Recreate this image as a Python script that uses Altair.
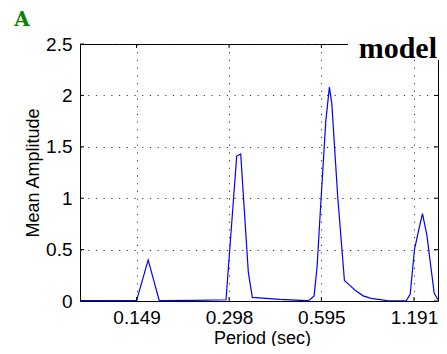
import altair as alt
import pandas as pd

# ---- data ----
period = [0.0975, 0.12, 0.149, 0.1625, 0.1765, 0.23, 0.2912, 0.3155, 0.3251, 0.3442,
          0.3547, 0.4366, 0.5334, 0.545, 0.5634, 0.5762, 0.5938, 0.6151, 0.6319, 0.6434,
          0.6731, 0.7073, 0.738, 0.7663, 0.8137, 0.864, 0.9742, 1.1236, 1.1577, 1.1955,
          1.2319, 1.2693, 1.312, 1.386, 1.4207, 1.493]
amplitude = [0.004, 0.004, 0.004, 0.40, 0.005, 0.006, 0.012, 1.41, 1.43, 0.28,
             0.035, 0.015, 0.003, 0.01, 0.05, 0.33, 1.0, 1.75, 2.08, 1.92,
             1.0, 0.20, 0.15, 0.105, 0.05, 0.025, 0.004, 0.002, 0.065, 0.5,
             0.68, 0.85, 0.64, 0.075, 0.02, 0.02]
x_ticks = [0.149, 0.298, 0.595, 1.191]
y_ticks = [0, 0.5, 1, 1.5, 2, 2.5]
x_domain = [0.0975, 1.426]
y_domain = [0, 2.5]
panel_label = "A"
panel_title = "model"

W, H = 358, 257
FONT = "Liberation Sans"

df = pd.DataFrame({"period": period, "amp": amplitude})
xt = pd.DataFrame({"period": x_ticks})
yt = pd.DataFrame({"amp": y_ticks})
one = pd.DataFrame({"k": [0]})

xs = alt.Scale(type="log", base=2, domain=x_domain, nice=False)
ys = alt.Scale(domain=y_domain, nice=False, zero=False)

x_axis = alt.Axis(
    values=x_ticks, format=".3f", title="Period (sec)",
    labelBaseline="alphabetic", labelPadding=22,
    titleX=182, titleY=42, titleBaseline="alphabetic", titleAlign="center")
y_axis = alt.Axis(
    values=y_ticks, labelExpr="'' + datum.value", title="Mean Amplitude",
    labelPadding=8, labelBaseline="middle",
    titleX=-42, titleY=H / 2, titleAngle=270, titleBaseline="alphabetic",
    titleAlign="center")

line = alt.Chart(df).mark_line(color="#0000ff", strokeWidth=1.2, clip=True).encode(
    x=alt.X("period:Q", scale=xs, axis=x_axis),
    y=alt.Y("amp:Q", scale=ys, axis=y_axis),
)

tick_y_left = alt.Chart(yt).mark_rule(color="black", strokeWidth=1).encode(
    y=alt.Y("amp:Q", scale=ys, axis=y_axis), x=alt.value(0), x2=alt.value(4))
tick_y_right = alt.Chart(yt).mark_rule(color="black", strokeWidth=1).encode(
    y=alt.Y("amp:Q", scale=ys, axis=y_axis), x=alt.value(W - 4), x2=alt.value(W))
tick_x_bot = alt.Chart(xt).mark_rule(color="black", strokeWidth=1).encode(
    x=alt.X("period:Q", scale=xs, axis=x_axis), y=alt.value(H - 4), y2=alt.value(H))
tick_x_top = alt.Chart(xt).mark_rule(color="black", strokeWidth=1).encode(
    x=alt.X("period:Q", scale=xs, axis=x_axis), y=alt.value(0), y2=alt.value(4))

white_box = alt.Chart(one).mark_rect(color="white").encode(
    x=alt.value(268), x2=alt.value(W + 1), y=alt.value(-14), y2=alt.value(16))
title_txt = alt.Chart(one).mark_text(
    text=panel_title, font="Liberation Serif", fontWeight="bold", fontSize=30,
    align="right", baseline="alphabetic", color="black").encode(
    x=alt.value(W - 1), y=alt.value(14))
label_txt = alt.Chart(one).mark_text(
    text=panel_label, font="DejaVu Serif", fontWeight="bold", fontSize=20,
    align="center", baseline="alphabetic", color="#0a800a").encode(
    x=alt.value(-58), y=alt.value(-18))

chart = alt.layer(
    line, tick_y_left, tick_y_right, tick_x_bot, tick_x_top,
    white_box, title_txt, label_txt
).properties(
    width=W, height=H,
    autosize=alt.AutoSizeParams(type="none"),
    padding={"left": 72, "top": 36, "right": 1, "bottom": 45},
    background="white",
).configure_view(
    stroke="black", strokeWidth=1
).configure_axis(
    domain=False, ticks=False, tickSize=0,
    grid=True, gridColor="#222", gridDash=[1.2, 6.5], gridWidth=1, gridOpacity=0.9,
    labelFont=FONT, labelFontSize=19, labelColor="black",
    titleFont=FONT, titleFontSize=18, titleColor="black", titleFontWeight="normal",
)

chart.save("out.html", embed_options={"renderer": "svg", "actions": False})
